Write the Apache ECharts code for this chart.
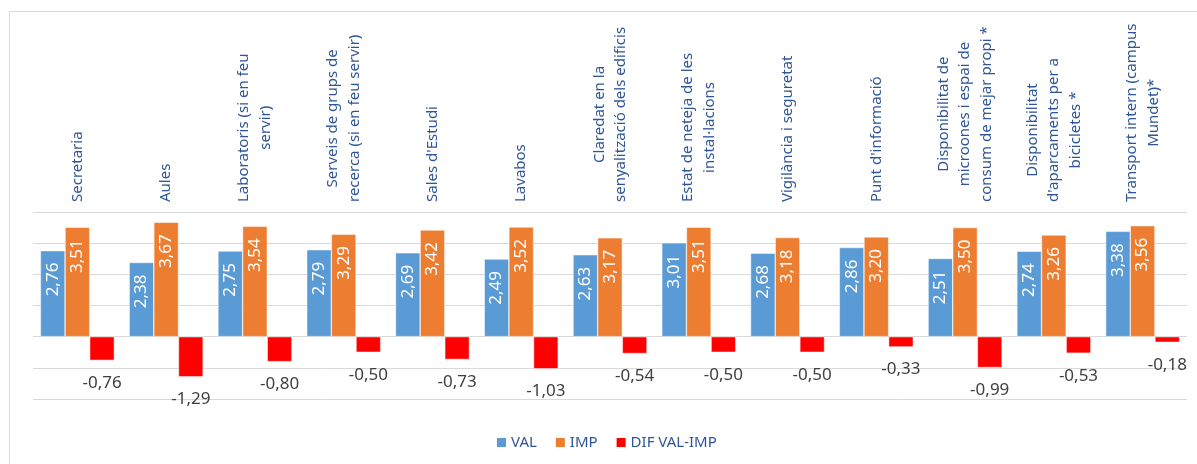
<!DOCTYPE html>
<html>
<head>
<meta charset="utf-8">
<script src="https://cdn.jsdelivr.net/npm/echarts@6/dist/echarts.min.js"></script>
<style>
html,body{margin:0;padding:0;background:#fff;}
#c{width:1197px;height:464px;}
</style>
</head>
<body>
<div id="c"></div>
<script>
const categories = [
  "Secretaria",
  "Aules",
  "Laboratoris (si en feu\nservir)",
  "Serveis de grups de\nrecerca (si en feu servir)",
  "Sales d'Estudi",
  "Lavabos",
  "Claredat en la\nsenyalització dels edificis",
  "Estat de neteja de les\ninstal·lacions",
  "Vigilància i seguretat",
  "Punt d'informació",
  "Disponibilitat de\nmicroones i espai de\nconsum de mejar propi *",
  "Disponibilitat\nd'aparcaments per a\nbicicletes *",
  "Transport intern (campus\nMundet)*"
];
const valValues = [2.76, 2.38, 2.75, 2.79, 2.69, 2.49, 2.63, 3.01, 2.68, 2.86, 2.51, 2.74, 3.38];
const impValues = [3.51, 3.67, 3.54, 3.29, 3.42, 3.52, 3.17, 3.51, 3.18, 3.20, 3.50, 3.26, 3.56];
const difValues = [-0.76, -1.29, -0.80, -0.50, -0.73, -1.03, -0.54, -0.50, -0.50, -0.33, -0.99, -0.53, -0.18];
const seriesNames = ["VAL", "IMP", "DIF VAL-IMP"];

const FONT = "'Noto Sans', sans-serif";
const TEXT_BLUE = '#2F5597';
const fmt = v => v.toFixed(2).replace('.', ',');

const chart = echarts.init(document.getElementById('c'), null, {renderer: 'canvas'});

const innerLabel = {
  show: true,
  position: 'insideTop',
  distance: 12,
  rotate: 90,
  align: 'right',
  verticalAlign: 'middle',
  color: '#ffffff',
  fontFamily: FONT,
  fontSize: 17,
  formatter: p => fmt(p.value)
};

chart.setOption({
  animation: false,
  backgroundColor: '#ffffff',
  graphic: [{
    type: 'rect',
    shape: {x: 9.5, y: 11.5, width: 1200, height: 500},
    style: {fill: 'none', stroke: '#D9D9D9', lineWidth: 1},
    silent: true, z: -10
  }],
  grid: {left: 33, right: 10, top: 212, bottom: 65, containLabel: false},
  legend: {
    data: seriesNames,
    left: 490,
    top: 430,
    itemWidth: 11,
    itemHeight: 11,
    itemGap: 17,
    icon: 'rect',
    textStyle: {color: TEXT_BLUE, fontFamily: FONT, fontSize: 15, padding: [0, 0, 0, -1]}
  },
  xAxis: {
    type: 'category',
    position: 'top',
    data: categories,
    axisLine: {show: false},
    axisTick: {show: false},
    axisLabel: {
      interval: 0,
      rotate: 90,
      margin: 10,
      formatter: v => v.split('\n').map(l => '{c|' + l + '}').join('\n'),
      rich: {
        c: {align: 'center', color: TEXT_BLUE, fontFamily: FONT, fontSize: 15, lineHeight: 21.5}
      }
    }
  },
  yAxis: {
    type: 'value',
    min: -2,
    max: 4,
    interval: 1,
    axisLine: {show: false},
    axisTick: {show: false},
    axisLabel: {show: false},
    splitLine: {lineStyle: {color: '#D9D9D9', width: 1}}
  },
  series: [
    {
      name: seriesNames[0], type: 'bar', data: valValues,
      barGap: '0%', barCategoryGap: '16.7%',
      itemStyle: {color: '#5B9BD5', borderColor: '#ffffff', borderWidth: 0.5},
      label: innerLabel
    },
    {
      name: seriesNames[1], type: 'bar', data: impValues,
      barGap: '0%', barCategoryGap: '16.7%',
      itemStyle: {color: '#ED7D31', borderColor: '#ffffff', borderWidth: 0.5},
      label: innerLabel
    },
    {
      name: seriesNames[2], type: 'bar', data: difValues,
      barGap: '0%', barCategoryGap: '16.7%',
      itemStyle: {color: '#FF0000', borderColor: '#ffffff', borderWidth: 0.5},
      label: {
        show: true, position: 'bottom', distance: 14,
        color: '#404040', fontFamily: FONT, fontSize: 17,
        formatter: p => fmt(p.value)
      }
    }
  ]
});
</script>
</body>
</html>
